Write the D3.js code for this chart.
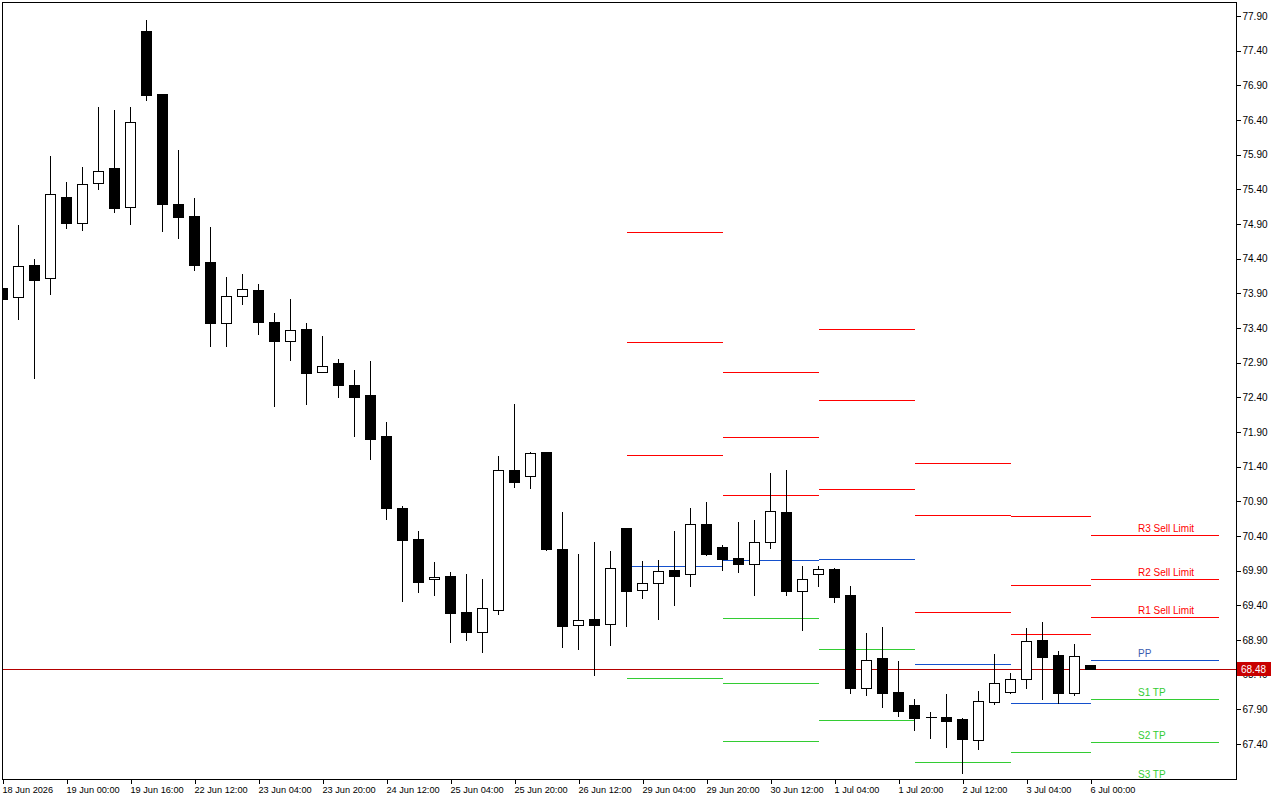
<!DOCTYPE html>
<html>
<head>
<meta charset="utf-8">
<script src="https://cdn.jsdelivr.net/npm/d3@7"></script>
<style>
  body { margin: 0; background: #fff; }
  text { font-family: "Liberation Sans", Arial, sans-serif; font-size: 10px; }
</style>
</head>
<body>
<div id="chart"></div>
<script>
// H4 candles, oldest first
var openP  = [73.98,73.85,74.31,74.12,75.29,74.91,75.49,75.71,75.15,77.68,76.78,75.19,75.02,74.35,73.47,73.86,73.95,73.49,73.21,73.39,
              72.77,72.90,72.58,72.43,71.84,70.80,70.36,69.78,69.82,69.30,69.01,69.33,71.35,71.27,71.61,70.21,69.12,69.20,69.13,70.52,
              69.62,69.72,69.91,69.85,70.57,70.24,70.08,70.00,70.31,70.75,69.61,69.85,69.92,69.55,68.21,68.64,68.15,67.96,67.79,67.79,
              67.76,67.46,68.01,68.15,68.34,68.90,68.68,68.14,68.54];
var highP  = [73.98,74.89,74.40,75.88,75.51,75.72,76.59,76.54,76.59,77.84,76.78,75.97,75.27,74.86,74.14,74.18,74.03,73.62,73.82,73.47,
              73.28,72.95,72.79,72.92,72.04,70.83,70.47,70.02,69.88,69.85,69.78,71.55,72.30,71.61,71.61,70.75,70.14,70.31,70.18,70.52,
              70.04,70.05,70.47,70.80,70.89,70.27,70.60,70.63,71.31,71.35,69.97,69.97,69.94,69.68,69.00,69.09,68.60,68.05,67.86,68.12,
              67.77,68.16,68.70,68.42,69.07,69.16,68.74,68.84,68.54];
var lowP   = [73.82,73.53,72.68,73.89,74.84,74.81,75.40,75.07,74.90,76.69,74.80,74.70,74.24,73.14,73.14,73.75,73.31,72.27,72.94,72.30,
              72.77,72.40,71.84,71.51,70.64,69.46,69.59,69.55,68.87,68.90,68.73,69.27,71.11,71.09,70.20,68.80,68.77,68.39,68.83,69.10,
              69.51,69.20,69.40,69.68,70.13,69.91,69.88,69.55,70.23,69.55,69.04,69.68,69.45,68.14,68.11,67.93,67.80,67.60,67.49,67.36,
              66.98,67.33,67.98,68.14,68.21,68.05,67.99,68.11,68.48];
var closeP = [73.82,74.29,74.09,75.33,74.91,75.48,75.66,75.13,76.37,76.76,75.19,75.00,74.31,73.47,73.86,73.96,73.49,73.21,73.37,72.75,
              72.85,72.58,72.40,71.80,70.80,70.34,69.74,69.81,69.29,69.01,69.36,71.35,71.18,71.60,70.21,69.10,69.19,69.12,69.94,69.61,
              69.72,69.89,69.82,70.57,70.14,70.07,70.00,70.31,70.76,69.61,69.78,69.92,69.52,68.21,68.61,68.14,67.88,67.77,67.79,67.73,
              67.47,68.02,68.28,68.34,68.89,68.65,68.14,68.67,68.48];

var timeIdx    = [0,4,8,12,16,20,24,28,32,36,40,44,48,52,56,60,64,68];
var timeLabels = ["18 Jun 2026","19 Jun 00:00","19 Jun 16:00","22 Jun 12:00","23 Jun 04:00","23 Jun 20:00",
                  "24 Jun 12:00","25 Jun 04:00","25 Jun 20:00","26 Jun 12:00","29 Jun 04:00","29 Jun 20:00",
                  "30 Jun 12:00","1 Jul 04:00","1 Jul 20:00","2 Jul 12:00","3 Jul 04:00","6 Jul 00:00"];

var priceTicks = [67.4,67.9,68.4,68.9,69.4,69.9,70.4,70.9,71.4,71.9,72.4,72.9,73.4,73.9,74.4,74.9,75.4,75.9,76.4,76.9,77.4,77.9];
var lastPrice = 68.48;

// daily pivot levels (bar index where each day starts / ends)
var dayStart = [39,45,51,57,63,68];
var dayEnd   = [45,51,57,63,68,76];
var r3 = [74.78,72.77,73.39,71.45,70.69,70.41];
var r2 = [73.20,71.83,72.36,70.70,69.69,69.78];
var r1 = [71.57,70.99,71.08,69.30,68.99,69.23];
var pp = [69.97,70.05,70.07,68.55,67.99,68.61];
var s1 = [68.35,69.22,68.77,67.14,67.28,68.05];
var s2 = [null,68.28,67.75,null,null,67.43];
var s3 = [null,67.44,null,null,null,66.87];
var levelNames = ["R3 Sell Limit","R2 Sell Limit","R1 Sell Limit","PP","S1 TP","S2 TP","S3 TP"];

(function(){
var W = 1280, H = 800;
var pl = 2, pt = 2, pr = 1236, pb = 779;

var svg = d3.select("#chart").append("svg")
    .attr("width", W).attr("height", H)
    .style("display", "block");

var x = d3.scaleLinear().domain([0, 76]).range([2.5, 2.5 + 16 * 76]);
var y = d3.scaleLinear().domain([66.895, 78.102]).range([pb, pt]);

svg.append("clipPath").attr("id", "plot")
  .append("rect").attr("x", pl).attr("y", pt).attr("width", pr - pl).attr("height", pb - pt);

var plot = svg.append("g").attr("clip-path", "url(#plot)").attr("shape-rendering", "crispEdges");

// pivot segments
var levelSets = [r3, r2, r1, pp, s1, s2, s3];
var levelColors = ["#ff0000","#ff0000","#ff0000","#1450cc","#33cc33","#33cc33","#33cc33"];
var segs = [];
levelSets.forEach(function(arr, k){
  arr.forEach(function(v, d){
    if (v != null) segs.push({v: v, d: d, k: k});
  });
});
plot.selectAll("line.lvl").data(segs).enter().append("line")
    .attr("class", "lvl")
    .attr("x1", function(s){ return x(dayStart[s.d]); })
    .attr("x2", function(s){ return x(dayEnd[s.d]); })
    .attr("y1", function(s){ return Math.round(y(s.v)) + 0.5; })
    .attr("y2", function(s){ return Math.round(y(s.v)) + 0.5; })
    .attr("stroke", function(s){ return levelColors[s.k]; })
    .attr("stroke-width", 1);

// current price line
plot.append("line")
    .attr("x1", pl).attr("x2", pr)
    .attr("y1", Math.round(y(lastPrice)) + 0.5).attr("y2", Math.round(y(lastPrice)) + 0.5)
    .attr("stroke", "#b40000");

// candles
var idx = d3.range(openP.length);
var cg = plot.selectAll("g.c").data(idx).enter().append("g").attr("class", "c");
cg.append("line")
    .attr("x1", function(i){ return x(i); }).attr("x2", function(i){ return x(i); })
    .attr("y1", function(i){ return Math.round(y(highP[i])); })
    .attr("y2", function(i){ return Math.round(y(lowP[i])) + 1; })
    .attr("stroke", "#000");
cg.each(function(i){
  var g = d3.select(this);
  var yt = Math.round(y(Math.max(openP[i], closeP[i])));
  var yb = Math.round(y(Math.min(openP[i], closeP[i])));
  if (yb - yt < 1) {
    g.append("line").attr("x1", x(i) - 5).attr("x2", x(i) + 6)
      .attr("y1", yt + 0.5).attr("y2", yt + 0.5).attr("stroke", "#000");
    return;
  }
  g.append("rect")
    .attr("x", x(i) - 5).attr("y", yt + 0.5)
    .attr("width", 10).attr("height", yb - yt)
    .attr("fill", closeP[i] >= openP[i] ? "#fff" : "#000")
    .attr("stroke", "#000");
});

// level labels for the current day
var lastDay = dayStart.length - 1;
var lbl = [];
levelSets.forEach(function(arr, k){ if (arr[lastDay] != null) lbl.push({v: arr[lastDay], k: k}); });
svg.selectAll("text.lvl").data(lbl).enter().append("text")
    .attr("class", "lvl")
    .attr("x", x(71) - 0.5)
    .attr("y", function(d){ return Math.round(y(d.v)) - 3; })
    .attr("fill", function(d){ return d.k == 3 ? "#3a5cb0" : levelColors[d.k]; })
    .text(function(d){ return levelNames[d.k]; });

// frame
svg.append("path")
    .attr("d", "M" + (pl + 0.5) + "," + (pb + 0.5) + "V" + (pt + 0.5) + "H" + (pr + 0.5) + "V" + (pb + 0.5) + "Z")
    .attr("fill", "none").attr("stroke", "#000").attr("shape-rendering", "crispEdges");

// right price axis
var yAxis = d3.axisRight(y).tickValues(priceTicks).tickSize(4).tickPadding(2).tickFormat(d3.format(".2f"));
var ya = svg.append("g").attr("transform", "translate(" + (pr + 0.5) + ",0)").call(yAxis);
ya.select(".domain").remove();
ya.selectAll("text").attr("fill", "#000").style("font-size", "10px").style("font-family", "'Liberation Sans', Arial, sans-serif");

// bottom time axis
var xAxis = d3.axisBottom(x).tickValues(timeIdx).tickSize(4)
    .tickFormat(function(d, n){ return timeLabels[n]; });
var xa = svg.append("g").attr("transform", "translate(0," + (pb + 0.5) + ")").call(xAxis);
xa.select(".domain").remove();
xa.selectAll("text").attr("text-anchor", "start").attr("x", -0.5).attr("y", 7).attr("dy", "0.71em")
    .attr("fill", "#000").style("font-size", "9.2px").style("font-family", "'Liberation Sans', Arial, sans-serif");
svg.selectAll(".tick line").attr("shape-rendering", "crispEdges");

// last price tag
var py = Math.round(y(lastPrice));
svg.append("rect").attr("x", pr + 1).attr("y", py - 7).attr("width", 34).attr("height", 14).attr("fill", "#c80000");
svg.append("text").attr("x", pr + 5).attr("y", py).attr("dy", "0.35em")
    .attr("fill", "#fff").text(d3.format(".2f")(lastPrice));
})();
</script>
</body>
</html>
